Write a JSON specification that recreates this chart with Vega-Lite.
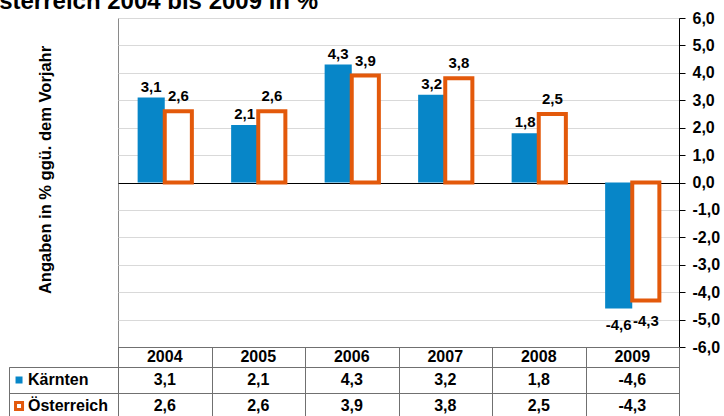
{
  "$schema": "https://vega.github.io/schema/vega-lite/v6.json",
  "autosize": "none",
  "padding": {"left": 9, "top": 18, "right": 715, "bottom": 398},
  "bounds": "flush",
  "spacing": 0,
  "columns": 2,
  "resolve": {"scale": {"x": "independent", "y": "independent"}},
  "config": {
    "font": "Liberation Sans",
    "locale": {"number": {"decimal": ",", "thousands": ".", "grouping": [3], "currency": ["", " €"], "minus": "-"}},
    "view": {"stroke": null}
  },
  "title": {
    "text": "Österreich 2004 bis 2009 in %",
    "anchor": "start",
    "fontSize": 24,
    "fontWeight": "bold",
    "color": "black",
    "font": "Liberation Sans",
    "dx": -28,
    "dy": 23,
    "offset": 0,
    "baseline": "alphabetic"
  },
  "datasets": {
    "d": [
      {"year": "2004", "series": "Kärnten", "value": 3.1},
      {"year": "2004", "series": "Österreich", "value": 2.6},
      {"year": "2005", "series": "Kärnten", "value": 2.1},
      {"year": "2005", "series": "Österreich", "value": 2.6},
      {"year": "2006", "series": "Kärnten", "value": 4.3},
      {"year": "2006", "series": "Österreich", "value": 3.9},
      {"year": "2007", "series": "Kärnten", "value": 3.2},
      {"year": "2007", "series": "Österreich", "value": 3.8},
      {"year": "2008", "series": "Kärnten", "value": 1.8},
      {"year": "2008", "series": "Österreich", "value": 2.5},
      {"year": "2009", "series": "Kärnten", "value": -4.6},
      {"year": "2009", "series": "Österreich", "value": -4.3}
    ]
  },
  "concat": [
    {
      "width": 109,
      "height": 329,
      "data": {"values": [{"t": "Angaben in % ggü.  dem Vorjahr"}]},
      "mark": {"type": "text", "angle": 270, "fontSize": 16.5, "fontWeight": "bold", "color": "black", "baseline": "middle", "align": "center"},
      "encoding": {
        "x": {"datum": 0.344, "type": "quantitative", "scale": {"domain": [0, 1]}, "axis": null},
        "y": {"datum": 0.538, "type": "quantitative", "scale": {"domain": [0, 1]}, "axis": null},
        "text": {"field": "t"}
      }
    },
    {
      "width": 561,
      "height": 329,
      "data": {"name": "d"},
      "view": {"stroke": "#8a8a8a", "strokeWidth": 1},
      "encoding": {
        "x": {"field": "year", "type": "nominal", "scale": {"paddingInner": 0.42, "paddingOuter": 0.21},
              "axis": {"orient": "bottom", "labels": false, "ticks": false, "domain": true, "domainColor": "black", "domainWidth": 1.2, "grid": false, "title": null}},
        "xOffset": {"field": "series", "type": "nominal", "sort": ["Kärnten", "Österreich"], "scale": {"paddingInner": 0, "paddingOuter": 0}},
        "y": {"field": "value", "type": "quantitative", "scale": {"domain": [-6, 6], "nice": false},
              "axis": {"orient": "right", "values": [-6, -5, -4, -3, -2, -1, 0, 1, 2, 3, 4, 5, 6], "format": ".1f",
                       "labelOverlap": false, "labelFlush": false,
                       "labelFontSize": 16, "labelFontWeight": "bold", "labelColor": "black", "labelAlign": "left", "labelPadding": 7,
                       "tickSize": 6, "tickColor": "black", "domainColor": "black", "grid": true,
                       "gridColor": {"condition": {"test": "datum.value === 0", "value": "black"}, "value": "#d9d9d9"},
                       "title": null}}
      },
      "layer": [
        {
          "mark": {"type": "bar"},
          "encoding": {
            "fill": {"field": "series", "type": "nominal", "scale": {"domain": ["Kärnten", "Österreich"], "range": ["#0786c8", "#ffffff"]}, "legend": null},
            "stroke": {"field": "series", "type": "nominal", "scale": {"domain": ["Kärnten", "Österreich"], "range": ["#0786c8", "#e3590b"]}, "legend": null},
            "strokeWidth": {"condition": {"test": "datum.series === 'Österreich'", "value": 4}, "value": 0}
          }
        },
        {
          "transform": [{"filter": "datum.series === 'Kärnten' && datum.value >= 0"}],
          "mark": {"type": "text", "fontSize": 15, "fontWeight": "bold", "color": "black", "baseline": "alphabetic", "dy": -6},
          "encoding": {"text": {"field": "value", "type": "quantitative", "format": ".1f"}}
        },
        {
          "transform": [{"filter": "datum.series === 'Österreich' && datum.value >= 0"}],
          "mark": {"type": "text", "fontSize": 15, "fontWeight": "bold", "color": "black", "baseline": "alphabetic", "dy": -10},
          "encoding": {"text": {"field": "value", "type": "quantitative", "format": ".1f"}}
        },
        {
          "transform": [{"filter": "datum.series === 'Kärnten' && datum.value < 0"}],
          "mark": {"type": "text", "fontSize": 15, "fontWeight": "bold", "color": "black", "baseline": "top", "dy": 9},
          "encoding": {"text": {"field": "value", "type": "quantitative", "format": ".1f"}}
        },
        {
          "transform": [{"filter": "datum.series === 'Österreich' && datum.value < 0"}],
          "mark": {"type": "text", "fontSize": 15, "fontWeight": "bold", "color": "black", "baseline": "top", "dy": 14},
          "encoding": {"text": {"field": "value", "type": "quantitative", "format": ".1f"}}
        }
      ]
    },
    {
      "width": 109,
      "height": 20,
      "data": {"values": [{}]},
      "mark": {"type": "text", "text": ""}
    },
    {
      "width": 561,
      "height": 20,
      "data": {"name": "d"},
      "transform": [{"filter": "datum.series === 'Kärnten'"}],
      "view": {"stroke": "#707070", "strokeWidth": 1},
      "mark": {"type": "text", "fontSize": 16, "fontWeight": "bold", "color": "black"},
      "encoding": {
        "x": {"field": "year", "type": "nominal", "scale": {"paddingInner": 0, "paddingOuter": 0},
              "axis": {"grid": true, "tickBand": "extent", "gridColor": "#707070", "labels": false, "ticks": false, "domain": false, "title": null}},
        "text": {"field": "year"}
      }
    },
    {
      "width": 109,
      "height": 52,
      "data": {"name": "d"},
      "transform": [{"filter": "datum.year === '2004'"}],
      "view": {"stroke": "#707070", "strokeWidth": 1},
      "encoding": {
        "y": {"field": "series", "type": "nominal", "sort": ["Kärnten", "Österreich"], "scale": {"paddingInner": 0, "paddingOuter": 0},
              "axis": {"grid": true, "tickBand": "extent", "gridColor": "#707070", "labels": false, "ticks": false, "domain": false, "title": null}}
      },
      "layer": [
        {
          "mark": {"type": "point", "shape": "square", "filled": true, "size": 49, "opacity": 1},
          "encoding": {
            "x": {"datum": 0.092, "type": "quantitative", "scale": {"domain": [0, 1]}, "axis": null},
            "fill": {"field": "series", "type": "nominal", "scale": {"domain": ["Kärnten", "Österreich"], "range": ["#0786c8", "#ffffff"]}, "legend": null},
            "stroke": {"field": "series", "type": "nominal", "scale": {"domain": ["Kärnten", "Österreich"], "range": ["#0786c8", "#e3590b"]}, "legend": null},
            "strokeWidth": {"condition": {"test": "datum.series === 'Österreich'", "value": 3}, "value": 0}
          }
        },
        {
          "mark": {"type": "text", "align": "left", "fontSize": 16, "fontWeight": "bold", "color": "black"},
          "encoding": {
            "x": {"datum": 0.174, "type": "quantitative"},
            "text": {"field": "series"}
          }
        }
      ]
    },
    {
      "width": 561,
      "height": 52,
      "data": {"name": "d"},
      "view": {"stroke": "#707070", "strokeWidth": 1},
      "mark": {"type": "text", "fontSize": 16, "fontWeight": "bold", "color": "black"},
      "encoding": {
        "x": {"field": "year", "type": "nominal", "scale": {"paddingInner": 0, "paddingOuter": 0},
              "axis": {"grid": true, "tickBand": "extent", "gridColor": "#707070", "labels": false, "ticks": false, "domain": false, "title": null}},
        "y": {"field": "series", "type": "nominal", "sort": ["Kärnten", "Österreich"], "scale": {"paddingInner": 0, "paddingOuter": 0},
              "axis": {"grid": true, "tickBand": "extent", "gridColor": "#707070", "labels": false, "ticks": false, "domain": false, "title": null}},
        "text": {"field": "value", "type": "quantitative", "format": ".1f"}
      }
    }
  ]
}
